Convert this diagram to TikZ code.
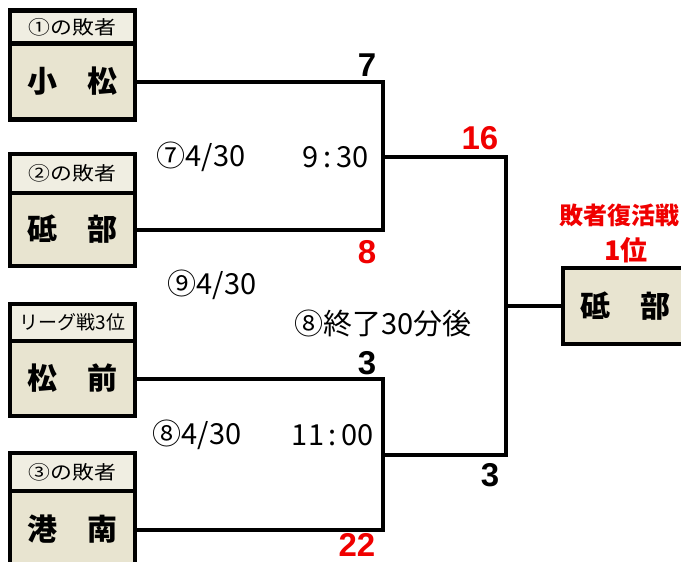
\documentclass[tikz,border=0pt]{standalone}
\usepackage{fontspec}
\setmainfont{Noto Sans CJK JP}
\newfontfamily\numfont{Liberation Sans}
\definecolor{boxfill}{HTML}{E8E4D0}
\definecolor{hdrfill}{HTML}{F0EEE2}
\definecolor{scorered}{HTML}{F00000}
\begin{document}
\begin{tikzpicture}[x=1pt,y=-1pt,
  hdr/.style={draw=black, line width=4.5pt, fill=hdrfill, minimum width=125pt, inner sep=0pt, outer sep=0pt, font=\fontsize{19}{19}\selectfont},
  body/.style={draw=black, line width=4.5pt, fill=boxfill, minimum width=125pt, inner sep=0pt, outer sep=0pt, font=\bfseries\fontsize{30}{30}\selectfont},
  conn/.style={draw=black, line width=4pt, line join=miter},
  lbl/.style={font=\fontsize{29}{29}\selectfont, inner sep=0pt},
  score/.style={font=\numfont\bfseries\fontsize{33}{33}\selectfont, inner sep=0pt},
  redscore/.style={score, text=scorered},
  redtitle/.style={font=\bfseries\fontsize{24}{24}\selectfont, text=scorered, inner sep=0pt}]
\useasboundingbox (0,0) rectangle (681,562);
\clip (0,0) rectangle (681,562);
% team boxes
\node[body, minimum height=76pt] (b1) at (72.5,81.5) {小　松};
\node[hdr, minimum height=33pt] (h1) at (72.5,27) {\scalebox{1.15}[1]{①の敗者}};
\node[body, minimum height=73pt] (b2) at (72.5,229.5) {砥　部};
\node[hdr, minimum height=39pt] (h2) at (72.5,173.5) {\scalebox{1.15}[1]{②の敗者}};
\node[body, minimum height=75pt] (b3) at (72.5,378.5) {松　前};
\node[hdr, minimum height=37pt] (h3) at (72.5,322.5) {\scalebox{1.0}[1]{リーグ戦3位}};
\node[body, minimum height=77pt] (b4) at (72.5,529.5) {港　南};
\node[hdr, minimum height=38pt] (h4) at (72.5,472) {\scalebox{1.15}[1]{③の敗者}};
% result box
\node[body, minimum width=142pt, minimum height=76pt] (r) at (634,306) {};
\node[font=\bfseries\fontsize{30}{30}\selectfont, inner sep=0pt] (rname) at (625,306) {砥　部};
\node[redtitle] (rt) at (619,215) {敗者復活戦};
\node[redtitle, font=\bfseries\fontsize{27}{27}\selectfont] (rt2) at (626,250) {1位};
% junctions
\coordinate (j1) at (383,157);
\coordinate (j2) at (383,455);
\coordinate (j3) at (506,306);
\draw[conn] (b1.east) -| (j1) |- (b2.east);
\draw[conn] (b3.east) -| (j2) |- (b4.east);
\draw[conn] (j1) -| (j3) |- (j2);
\draw[conn] (j3) -- (r.west);
% labels
\node[score] (s1) at (367,65) {7};
\node[redscore] (s2) at (367,252) {8};
\node[redscore] (s3) at (480,138) {16};
\node[score] (s4) at (367,363) {3};
\node[redscore] (s5) at (357,545) {22};
\node[score] (s6) at (490,475) {3};
\node[lbl] (m7) at (201,157) {⑦4/30};
\node[lbl] (t7) at (336,157) {9\,:\,30};
\node[lbl] (m9) at (212,285) {⑨4/30};
\node[lbl] (m8b) at (383,323) {⑧終了30分後};
\node[lbl] (m8) at (197,435) {⑧4/30};
\node[lbl] (t8) at (333,435) {11\,:\,00};
\end{tikzpicture}
\end{document}
